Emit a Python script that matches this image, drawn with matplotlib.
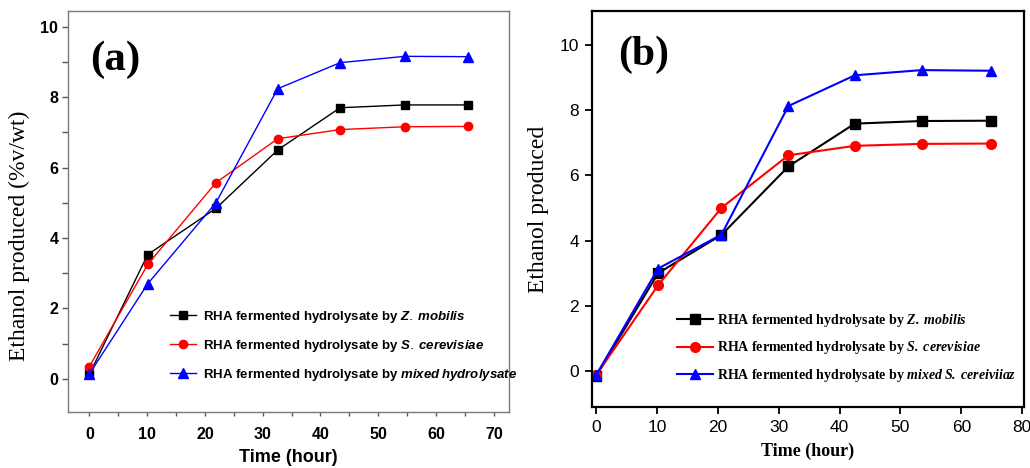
import matplotlib
matplotlib.use("Agg")
import matplotlib.pyplot as plt
from matplotlib.ticker import MultipleLocator

plt.rcParams['mathtext.fontset'] = 'custom'
plt.rcParams['mathtext.it'] = 'Liberation Sans:italic:bold'
plt.rcParams['mathtext.bfit'] = 'Liberation Serif:italic:bold'

# panel (a) data
time_a = [0, 10.1, 21.9, 32.6, 43.4, 54.6, 65.5]
zmob_a = [0.13, 3.53, 4.84, 6.50, 7.70, 7.78, 7.78]
scer_a = [0.35, 3.25, 5.57, 6.82, 7.08, 7.16, 7.17]
mixed_a = [0.14, 2.70, 5.00, 8.24, 8.98, 9.16, 9.15]

# panel (b) data
time_b = [0, 10.2, 20.6, 31.6, 42.5, 53.5, 64.8]
zmob_b = [-0.16, 3.00, 4.17, 6.27, 7.58, 7.66, 7.67]
scer_b = [-0.13, 2.63, 5.00, 6.61, 6.90, 6.96, 6.97]
mixed_b = [-0.13, 3.14, 4.18, 8.12, 9.06, 9.22, 9.20]

xticks_b = [0, 10, 20, 30, 40, 50, 60, 70]
xticklabels_b = ['0', '10', '20', '30', '40', '50', '60', '80']

labels_a = [r'RHA fermented hydrolysate by $\mathit{Z.\:mobilis}$',
            r'RHA fermented hydrolysate by $\mathit{S.\:cerevisiae}$',
            r'RHA fermented hydrolysate by $\mathit{mixed\:hydrolysate}$']
labels_b = [r'RHA fermented hydrolysate by $\mathbfit{Z.\:mobilis}$',
            r'RHA fermented hydrolysate by $\mathbfit{S.\:cerevisiae}$',
            r'RHA fermented hydrolysate by $\mathbfit{mixed\:S.\:cereiviiaz}$']

sans = 'Liberation Sans'
serif = 'Liberation Serif'

fig = plt.figure(figsize=(10.3, 4.68), dpi=100)

# ---- panel (a) ----
ax = fig.add_axes([0.066, 0.1197, 0.428, 0.857])
ax.plot(time_a, zmob_a, '-s', color='black', lw=1, ms=6, label=labels_a[0])
ax.plot(time_a, scer_a, '-o', color='red', lw=1, ms=6, label=labels_a[1])
ax.plot(time_a, mixed_a, '-^', color='blue', lw=1, ms=6.5, label=labels_a[2])
ax.set_xlim(-3.7, 72.6)
ax.set_ylim(-0.94, 10.45)
ax.xaxis.set_major_locator(MultipleLocator(10))
ax.xaxis.set_minor_locator(MultipleLocator(5))
ax.yaxis.set_major_locator(MultipleLocator(2))
ax.yaxis.set_minor_locator(MultipleLocator(1))
for s in ax.spines.values():
    s.set_color('#7a7a7a')
    s.set_linewidth(1.0)
ax.tick_params(which='both', direction='out', color='#555555', width=1)
ax.tick_params(axis='x', which='both', length=3, labelsize=11.5, pad=8)
ax.tick_params(axis='y', which='major', length=4, labelsize=11.5, pad=3)
ax.tick_params(axis='y', which='minor', length=4)
for t in ax.get_xticklabels() + ax.get_yticklabels():
    t.set_fontfamily(sans)
    t.set_fontweight('bold')
ax.set_xlabel('Time (hour)', fontfamily=sans, fontweight='bold', fontsize=13, labelpad=5)
ax.set_ylabel('Ethanol produced (%v/wt)', fontfamily=serif, fontsize=17)
ax.yaxis.set_label_coords(-0.087, 0.439)
ax.text(0.05, 0.878, '(a)', transform=ax.transAxes, fontfamily=serif,
        fontweight='bold', fontsize=31, ha='left', va='center')
ax.legend(loc='upper left', bbox_to_anchor=(0.231, 0.258), frameon=False,
          borderpad=0, borderaxespad=0, handlelength=2.0, handletextpad=0.5,
          labelspacing=1.0, prop={'family': sans, 'weight': 'bold', 'size': 9.5})

# ---- panel (b) ----
bx = fig.add_axes([0.5745, 0.1303, 0.4197, 0.8462])
bx.plot(time_b, zmob_b, '-s', color='black', lw=1.5, ms=6.5, label=labels_b[0])
bx.plot(time_b, scer_b, '-o', color='red', lw=1.5, ms=7, label=labels_b[1])
bx.plot(time_b, mixed_b, '-^', color='blue', lw=1.5, ms=7.5, label=labels_b[2])
bx.set_xlim(-0.7, 70.3)
bx.set_ylim(-1.1, 11.03)
bx.set_xticks(xticks_b)
bx.set_xticklabels(xticklabels_b)
bx.yaxis.set_major_locator(MultipleLocator(2))
for s in bx.spines.values():
    s.set_color('black')
    s.set_linewidth(1.6)
bx.tick_params(which='major', direction='out', length=5, width=1.3,
               labelsize=12.5, pad=4)
for t in bx.get_xticklabels() + bx.get_yticklabels():
    t.set_fontfamily(sans)
bx.set_xlabel('Time (hour)', fontfamily=serif, fontweight='bold', fontsize=13, labelpad=6)
bx.set_ylabel('Ethanol produced', fontfamily=serif, fontsize=17, labelpad=8)
bx.text(0.062, 0.89, '(b)', transform=bx.transAxes, fontfamily=serif,
        fontweight='bold', fontsize=30, ha='left', va='center')
bx.legend(loc='upper left', bbox_to_anchor=(0.198, 0.24), frameon=False,
          borderpad=0, borderaxespad=0, handlelength=2.6, handletextpad=0.25,
          labelspacing=0.75, prop={'family': serif, 'weight': 'bold', 'size': 10})

fig.savefig('out.png', dpi=100)
